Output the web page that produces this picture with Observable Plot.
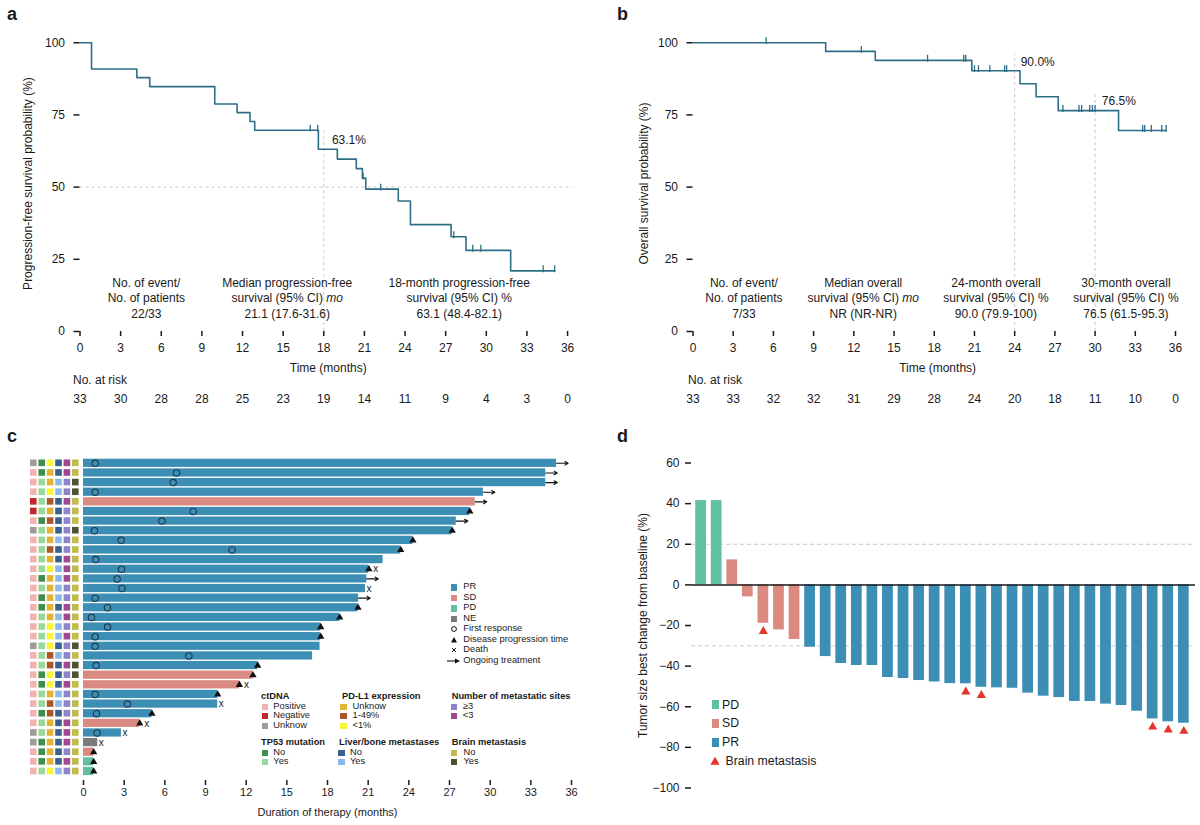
<!DOCTYPE html>
<html>
<head>
<meta charset="utf-8">
<script src="https://cdn.jsdelivr.net/npm/d3@7"></script>
<script src="https://cdn.jsdelivr.net/npm/@observablehq/plot@0.6"></script>
<style>
html,body{margin:0;padding:0;background:#fff;}
#root{position:relative;width:1200px;height:825px;overflow:hidden;background:#fff;font-family:"Liberation Sans",Arial,Helvetica,sans-serif;color:#1a1a1a;}
.pl{position:absolute;font-weight:bold;font-size:18px;line-height:1;}
.lg{position:absolute;white-space:nowrap;line-height:1;transform:translateY(-50%);}
.sw{position:absolute;}
.holder{position:absolute;}
.holder svg{display:block;overflow:visible;}
</style>
</head>
<body>
<div id="root"></div>
<script>
// ---------------- DATA ----------------
// Panel a/b : Kaplan-Meier
const kmMonths = [0, 3, 6, 9, 12, 15, 18, 21, 24, 27, 30, 33, 36];
const kmYTicks = [0, 25, 50, 75, 100];

const pfsTime = [0, 0.85, 4.2, 5.15, 9.95, 11.6, 12.55, 12.9, 17.6, 19.0, 20.4, 20.85, 21.1, 23.5, 24.4, 27.4, 28.5, 31.8, 35.05];
const pfsSurv = [100, 90.9, 87.9, 84.8, 78.8, 75.8, 72.7, 69.7, 63.1, 59.7, 56.4, 53.1, 49.3, 45.2, 37.0, 32.8, 28.1, 21.0, 21.0];
const pfsCensorTime = [17.0, 17.55, 20.9, 22.2, 27.6, 29.0, 29.6, 34.2, 35.05];
const pfsCensorSurv = [69.7, 69.7, 53.1, 49.3, 32.8, 28.1, 28.1, 21.0, 21.0];
const pfsRisk = [33, 30, 28, 28, 25, 23, 19, 14, 11, 9, 4, 3, 0];
const pfsSummaryX = [4.9, 15.3, 28.0];
const pfsSummaryY = 11.9;
const pfsSummaryText = [
  "No. of event/\nNo. of patients\n22/33",
  "Median progression-free\nsurvival (95% CI) mo\n21.1 (17.6-31.6)",
  "18-month progression-free\nsurvival (95% CI) %\n63.1 (48.4-82.1)"
];
const pfsNoteX = [18.6];
const pfsNoteY = [66.3];
const pfsNoteText = ["63.1%"];
const pfsHGuides = [{y: 50, x1: 0, x2: 36.4}];
const pfsVGuides = [{x: 18, y1: 0, y2: 70.7}];

const osTime = [0, 9.9, 13.6, 20.8, 24.4, 25.6, 27.25, 31.75, 35.3];
const osSurv = [100, 97.0, 93.9, 90.3, 85.8, 81.3, 76.5, 69.6, 69.6];
const osCensorTime = [5.46, 12.56, 17.5, 20.2, 20.35, 21.0, 21.3, 22.15, 23.25, 23.4, 27.6, 28.8, 29.0, 29.6, 29.8, 30.0, 33.55, 33.7, 34.2, 34.97, 35.3];
const osCensorSurv = [100, 97.0, 93.9, 93.9, 93.9, 90.3, 90.3, 90.3, 90.3, 90.3, 76.5, 76.5, 76.5, 76.5, 76.5, 76.5, 69.6, 69.6, 69.6, 69.6, 69.6];
const osRisk = [33, 33, 32, 32, 31, 29, 28, 24, 20, 18, 11, 10, 0];
const osSummaryX = [3.8, 12.7, 22.6, 32.3];
const osSummaryY = 11.9;
const osSummaryText = [
  "No. of event/\nNo. of patients\n7/33",
  "Median overall\nsurvival (95% CI) mo\nNR (NR-NR)",
  "24-month overall\nsurvival (95% CI) %\n90.0 (79.9-100)",
  "30-month overall\nsurvival (95% CI) %\n76.5 (61.5-95.3)"
];
const osNoteX = [24.45, 30.5];
const osNoteY = [93.1, 79.9];
const osNoteText = ["90.0%", "76.5%"];
const osVGuides = [{x: 24, y1: 0, y2: 96.1}, {x: 30, y1: 0, y2: 82.2}];

// Panel c : swimmer plot (33 patients, top to bottom)
const swimTicks = [0, 3, 6, 9, 12, 15, 18, 21, 24, 27, 30, 33, 36];
const swimDuration = [34.9, 34.1, 34.1, 29.5, 28.9, 28.5, 27.5, 27.2, 24.3, 23.4, 22.1, 21.05, 20.9, 20.8, 20.3, 20.25, 18.9, 17.5, 17.5, 17.45, 16.9, 12.85, 12.5, 11.5, 9.9, 9.9, 5.05, 4.15, 2.8, 1.05, 0.75, 0.75, 0.75];
const swimResponse = ["PR","PR","PR","PR","SD","PR","PR","PR","PR","PR","PR","PR","PR","PR","PR","PR","PR","PR","PR","PR","PR","PR","SD","SD","PR","PR","PR","SD","PR","NE","SD","PD","PD"];
const swimFirstResponse = [0.86, 6.86, 6.61, 0.86, null, 8.09, 5.78, 0.81, 2.78, 10.96, 0.91, 2.8, 2.48, 2.83, 0.86, 1.77, 0.59, 1.77, 0.86, 0.86, 7.77, 0.93, null, null, 0.86, 3.24, 0.96, null, 1.0, null, null, null, null];
const swimProgression = [0,0,0,0,0,1,0,1,1,1,0,1,0,0,0,1,1,1,1,0,0,1,1,1,1,0,1,1,0,0,1,1,1];
const swimDeath =       [0,0,0,0,0,0,0,0,0,0,0,1,0,1,0,0,0,0,0,0,0,0,0,1,0,1,0,1,1,1,0,0,0];
const swimOngoing =     [1,1,1,1,1,0,1,0,0,0,0,0,1,0,1,0,0,0,0,0,0,0,0,0,0,0,0,0,0,0,0,0,0];
const respCats = ["PR", "SD", "PD", "NE"];
const respColors = ["#3d8eb5", "#da8a80", "#62c0a0", "#7a7a7a"];
const symbolLegend = ["First response", "Disease progression time", "Death", "Ongoing treatment"];

// Panel c : clinical annotation columns
const ctDNA = ["Unknow","Positive","Positive","Positive","Negative","Negative","Positive","Unknow","Positive","Positive","Positive","Positive","Positive","Positive","Positive","Positive","Positive","Positive","Positive","Unknow","Positive","Positive","Positive","Positive","Positive","Positive","Positive","Positive","Unknow","Unknow","Positive","Positive","Positive"];
const tp53 = ["No","No","Yes","Yes","Yes","Yes","No","Yes","Yes","Yes","Yes","Yes","No","Yes","No","No","Yes","Yes","Yes","Yes","Yes","Yes","No","No","Yes","Yes","No","Yes","Yes","No","No","No","Yes"];
const pdl1 = ["<1%","Unknow","Unknow","<1%","1-49%","Unknow","1-49%","Unknow","Unknow","1-49%","Unknow","<1%","Unknow","Unknow","Unknow","Unknow","Unknow","<1%","<1%","<1%","1-49%","1-49%","<1%","<1%","Unknow","1-49%","1-49%","Unknow","Unknow","Unknow","Unknow","Unknow","<1%"];
const liverBone = ["No","No","Yes","Yes","No","No","No","No","Yes","No","No","Yes","Yes","Yes","Yes","No","Yes","Yes","Yes","No","Yes","No","No","No","Yes","Yes","No","No","No","No","No","No","Yes"];
const metSites = ["<3","<3","≥3","≥3","<3","≥3","≥3","≥3","≥3","≥3","<3","<3","<3","≥3","≥3","<3","<3","≥3","<3","≥3","≥3","<3","≥3","<3","≥3","≥3","≥3","<3","<3","<3","≥3","<3","≥3"];
const brainMet = ["No","No","Yes","Yes","No","No","No","Yes","No","No","No","No","No","No","No","No","No","No","No","Yes","No","Yes","Yes","No","No","No","No","No","No","No","No","No","No"];

const ctDNALevels = ["Positive", "Negative", "Unknow"];
const ctDNAColors = ["#f1b3b1", "#c1272d", "#a19b99"];
const tp53Levels = ["No", "Yes"];
const tp53Colors = ["#3f8f4c", "#98d898"];
const pdl1Levels = ["Unknow", "1-49%", "<1%"];
const pdl1Colors = ["#e4b237", "#a9582b", "#f7f535"];
const metLevels = ["≥3", "<3"];
const metColors = ["#8e84c9", "#a24891"];
const liverLevels = ["No", "Yes"];
const liverColors = ["#3a5f91", "#8ab8ec"];
const brainLevels = ["No", "Yes"];
const brainColors = ["#c0bb4c", "#4e5331"];

// Panel d : waterfall (32 evaluable patients)
const wfTicks = [-100, -80, -60, -40, -20, 0, 20, 40, 60];
const wfValue = [41.5, 41.5, 12.3, -5.9, -18.9, -22.2, -26.9, -30.7, -35.3, -38.7, -39.7, -39.7, -45.6, -46.1, -47.1, -47.8, -48.6, -48.7, -50.4, -50.7, -50.9, -53.3, -54.8, -55.5, -57.4, -57.4, -58.7, -59.4, -62.2, -66.0, -67.4, -68.1];
const wfResponse = ["PD","PD","SD","SD","SD","SD","SD","PR","PR","PR","PR","PR","PR","PR","PR","PR","PR","PR","PR","PR","PR","PR","PR","PR","PR","PR","PR","PR","PR","PR","PR","PR"];
const wfBrain = [5, 18, 19, 30, 31, 32];
const wfGuides = [20, -30];
const wfCats = ["PD", "SD", "PR"];
const wfColors = ["#62c0a0", "#da8a80", "#3d8eb5"];
const brainColor = "#e5352b";

// ---------------- STYLE / HELPERS ----------------
const FONT = '"Liberation Sans", Arial, Helvetica, sans-serif';
const INK = "#1a1a1a";
const CURVE = "#2d6e86";
const DASH = "#c9c9c9";
const root = document.getElementById("root");
const baseStyle = {fontFamily: FONT, fontSize: "12px", color: INK, background: "transparent", overflow: "visible"};

function put(node, left, top) {
  const h = document.createElement("div");
  h.className = "holder";
  h.style.left = left + "px";
  h.style.top = top + "px";
  h.appendChild(node);
  root.appendChild(h);
  return h;
}
function panelLabel(t, left, top) {
  const d = document.createElement("div");
  d.className = "pl"; d.textContent = t;
  d.style.left = left + "px"; d.style.top = top + "px";
  root.appendChild(d);
}
function lgText(x, y, t, size, bold) {
  const d = document.createElement("div");
  d.className = "lg"; d.textContent = t;
  d.style.left = x + "px"; d.style.top = y + "px";
  d.style.fontSize = size + "px";
  if (bold) d.style.fontWeight = "bold";
  root.appendChild(d);
}
function swatch(cx, cy, w, h, color) {
  const d = document.createElement("div");
  d.className = "sw";
  d.style.cssText = `position:absolute;left:${cx - w / 2}px;top:${cy - h / 2}px;width:${w}px;height:${h}px;background:${color};`;
  root.appendChild(d);
}
function svgIcon(cx, cy, inner) {
  const s = 16;
  const d = document.createElement("div");
  d.style.cssText = `position:absolute;left:${cx - s / 2}px;top:${cy - s / 2}px;width:${s}px;height:${s}px;`;
  d.innerHTML = `<svg width="${s}" height="${s}" viewBox="-8 -8 16 16" style="display:block;overflow:visible">${inner}</svg>`;
  root.appendChild(d);
}
function italicMo(svg) {
  svg.querySelectorAll("tspan").forEach(t => {
    if (t.childElementCount === 0 && / mo$/.test(t.textContent)) {
      t.textContent = t.textContent.replace(/mo$/, "");
      const it = document.createElementNS("http://www.w3.org/2000/svg", "tspan");
      it.setAttribute("font-style", "italic");
      it.textContent = "mo";
      t.appendChild(it);
    }
  });
}
const censorTick = {draw(ctx, size) { const r = Math.sqrt(size / Math.PI); ctx.moveTo(0, -r); ctx.lineTo(0, r * 0.25); }};

// ---------------- PANELS a & b ----------------
function kmPanel(cfg) {
  const steps = cfg.time.map((t, i) => ({t, s: cfg.surv[i]}));
  const cens = cfg.censTime.map((t, i) => ({t, s: cfg.censSurv[i]}));
  const summaries = cfg.summaryX.map((x, i) => ({x, y: cfg.summaryY, text: cfg.summaryText[i]}));
  const notes = cfg.noteX.map((x, i) => ({x, y: cfg.noteY[i], text: cfg.noteText[i]}));
  const svg = Plot.plot({
    width: 600, height: 420,
    marginLeft: cfg.marginLeft, marginRight: cfg.marginRight, marginTop: 35, marginBottom: 89,
    style: baseStyle,
    x: {domain: [0, cfg.xMax]},
    y: {domain: [0, 102.5]},
    marks: [
      Plot.ruleY(cfg.hGuides, {y: "y", x1: "x1", x2: "x2", stroke: DASH, strokeDasharray: "3,3"}),
      Plot.ruleX(cfg.vGuides, {x: "x", y1: "y1", y2: "y2", stroke: DASH, strokeDasharray: "3,3"}),
      Plot.line(steps, {x: "t", y: "s", curve: "step-after", stroke: CURVE, strokeWidth: 1.6}),
      Plot.dot(cens, {x: "t", y: "s", symbol: censorTick, r: 5.5, stroke: CURVE, strokeWidth: 1.3, fill: "none"}),
      Plot.text(summaries, {x: "x", y: "y", text: "text", lineHeight: 1.29, fontSize: 12}),
      Plot.text(notes, {x: "x", y: "y", text: "text", textAnchor: "start", fontSize: 12}),
      Plot.text(kmMonths, {x: d => d, text: (d, i) => String(cfg.risk[i]), frameAnchor: "bottom", dy: 71.7, fontSize: 12}),
      Plot.text(["No. at risk"], {x: 0, text: d => d, frameAnchor: "bottom", dy: 52.3, dx: cfg.riskDx, textAnchor: "start", fontSize: 12}),
      Plot.axisX({ticks: kmMonths, tickSize: 5, tickPadding: 7, line: true, strokeWidth: 1.5, fontSize: 12,
        label: "Time (months)", labelAnchor: "center", labelArrow: "none", labelOffset: 40}),
      Plot.axisY({ticks: kmYTicks, tickSize: 6, tickPadding: 9, line: true, strokeWidth: 1.5, fontSize: 12,
        label: cfg.yLabel, labelAnchor: "center", labelArrow: "none", labelOffset: cfg.labelOffset})
    ]
  });
  italicMo(svg);
  return svg;
}

put(kmPanel({
  time: pfsTime, surv: pfsSurv, censTime: pfsCensorTime, censSurv: pfsCensorSurv, risk: pfsRisk,
  summaryX: pfsSummaryX, summaryY: pfsSummaryY, summaryText: pfsSummaryText,
  noteX: pfsNoteX, noteY: pfsNoteY, noteText: pfsNoteText,
  hGuides: pfsHGuides, vGuides: pfsVGuides,
  marginLeft: 79.5, marginRight: 24, xMax: 36.66, riskDx: -7, labelOffset: 57,
  yLabel: "Progression-free survival probability (%)"
}), 0, 0);

put(kmPanel({
  time: osTime, surv: osSurv, censTime: osCensorTime, censSurv: osCensorSurv, risk: osRisk,
  summaryX: osSummaryX, summaryY: osSummaryY, summaryText: osSummaryText,
  noteX: osNoteX, noteY: osNoteY, noteText: osNoteText,
  hGuides: [], vGuides: osVGuides,
  marginLeft: 92.5, marginRight: 18.3, xMax: 36.5, riskDx: -5, labelOffset: 54,
  yLabel: "Overall survival probability (%)"
}), 600, 0);

// ---------------- PANEL c ----------------
const ids = swimDuration.map((d, i) => i + 1);
const swim = swimDuration.map((dur, i) => ({
  id: i + 1, dur, resp: swimResponse[i], fr: swimFirstResponse[i],
  prog: swimProgression[i] === 1, death: swimDeath[i] === 1, ongoing: swimOngoing[i] === 1
}));

const heatCols = [
  {name: "ctDNA", values: ctDNA, levels: ctDNALevels, colors: ctDNAColors},
  {name: "TP53 mutation", values: tp53, levels: tp53Levels, colors: tp53Colors},
  {name: "PD-L1 expression", values: pdl1, levels: pdl1Levels, colors: pdl1Colors},
  {name: "Liver/bone metastases", values: liverBone, levels: liverLevels, colors: liverColors},
  {name: "Number of metastatic sites", values: metSites, levels: metLevels, colors: metColors},
  {name: "Brain metastasis", values: brainMet, levels: brainLevels, colors: brainColors}
];
const heatCells = heatCols.flatMap(c => c.values.map((v, i) => ({col: c.name, id: i + 1, key: c.name + "|" + v})));

const heatSvg = Plot.plot({
  width: 85, height: 385, marginLeft: 29.1, marginRight: 5.5, marginTop: 18, marginBottom: 45,
  style: baseStyle,
  x: {domain: heatCols.map(c => c.name), padding: 0, round: false, axis: null},
  y: {domain: ids, padding: 0, round: false, insetBottom: 4.2, axis: null},
  color: {domain: heatCols.flatMap(c => c.levels.map(l => c.name + "|" + l)), range: heatCols.flatMap(c => c.colors)},
  marks: [
    Plot.cell(heatCells, {x: "col", y: "id", fill: "key", insetLeft: 0.9, insetRight: 0.9, insetTop: 1.5, insetBottom: 1.5})
  ]
});
put(heatSvg, 0, 440);

const swimSvg = Plot.plot({
  width: 600, height: 385, marginLeft: 83, marginRight: 29, marginTop: 18, marginBottom: 45,
  style: {...baseStyle, fontSize: "11px"},
  x: {domain: [0, 36]},
  y: {domain: ids, padding: 0, round: false, insetBottom: 4.2, axis: null},
  color: {domain: respCats, range: respColors},
  marks: [
    Plot.barX(swim, {y: "id", x1: 0, x2: "dur", fill: "resp", insetTop: 0.7, insetBottom: 0.7}),
    Plot.dot(swim.filter(d => d.fr != null), {x: "fr", y: "id", r: 3.2, stroke: "#1b3a4d", strokeWidth: 1.1, fill: "none"}),
    Plot.arrow(swim.filter(d => d.ongoing), {x1: "dur", x2: d => d.dur + 0.85, y1: "id", y2: "id", stroke: "#111", strokeWidth: 1.1, headLength: 5}),
    Plot.dot(swim.filter(d => d.prog), {x: "dur", y: "id", symbol: "triangle", r: 2.7, fill: "#111"}),
    Plot.text(swim.filter(d => d.death && d.prog), {x: "dur", y: "id", text: () => "x", dx: 7, fontSize: 10}),
    Plot.text(swim.filter(d => d.death && !d.prog), {x: "dur", y: "id", text: () => "x", dx: 3.5, fontSize: 10}),
    Plot.axisX({ticks: swimTicks, tickSize: 5, tickPadding: 3, line: true, strokeWidth: 1.5, fontSize: 11,
      label: "Duration of therapy (months)", labelAnchor: "center", labelArrow: "none", labelOffset: 35})
  ]
});
put(swimSvg, 0, 440);

// legend: response + symbols
const LG = 9.3;
respCats.forEach((c, i) => {
  const y = 587.3 + i * 10.5;
  swatch(454, y, 6.5, 6.5, respColors[i]);
  lgText(463.3, y, c, LG);
});
const symIcons = [
  `<circle r="2.4" fill="none" stroke="#111" stroke-width="1"/>`,
  `<path d="M0,-3 L3,2.4 L-3,2.4 Z" fill="#111"/>`,
  `<path d="M-2,-2 L2,2 M2,-2 L-2,2" stroke="#111" stroke-width="1"/>`,
  `<path d="M-7,0 L3,0" stroke="#111" stroke-width="1.1"/><path d="M6,0 L1,-2.5 L1,2.5 Z" fill="#111"/>`
];
symbolLegend.forEach((t, i) => {
  const y = 587.3 + (i + 4) * 10.5;
  svgIcon(454, y, symIcons[i]);
  lgText(463.3, y, t, LG);
});
// legend: annotation groups
const groupPos = [
  {col: 0, tx: 261, sx: 265, lx: 273.3, ty: 696.7},
  {col: 1, tx: 261, sx: 265, lx: 273.3, ty: 742.7},
  {col: 2, tx: 342, sx: 343.5, lx: 352.5, ty: 696.7},
  {col: 3, tx: 339, sx: 341.5, lx: 350, ty: 742.7},
  {col: 4, tx: 451.7, sx: 453.7, lx: 462.8, ty: 696.7},
  {col: 5, tx: 451.7, sx: 453.7, lx: 463.5, ty: 742.7}
];
groupPos.forEach(g => {
  const c = heatCols[g.col];
  lgText(g.tx, g.ty, c.name, LG, true);
  c.levels.forEach((l, i) => {
    const y = g.ty + 10 + i * 9.7;
    swatch(g.sx, y, 6.2, 6.2, c.colors[i]);
    lgText(g.lx, y, l, LG);
  });
});

// ---------------- PANEL d ----------------
const wf = wfValue.map((v, i) => ({id: i + 1, v, resp: wfResponse[i], brain: wfBrain.includes(i + 1)}));
const wfSvg = Plot.plot({
  width: 600, height: 385, marginLeft: 91, marginRight: 5, marginTop: 15, marginBottom: 30,
  style: baseStyle,
  x: {domain: wf.map(d => d.id), paddingInner: 0.31, paddingOuter: 0.155, round: false, insetLeft: 1.8, insetRight: 3.9, axis: null},
  y: {domain: [-103.7, 63.7]},
  color: {domain: wfCats, range: wfColors},
  marks: [
    Plot.ruleY(wfGuides, {stroke: DASH, strokeDasharray: "4,3"}),
    Plot.barY(wf, {x: "id", y1: 0, y2: "v", fill: "resp"}),
    Plot.ruleY([0], {stroke: INK, strokeWidth: 1.5}),
    Plot.dot(wf.filter(d => d.brain), {x: "id", y: "v", symbol: "triangle", r: 3.4, fill: brainColor, dy: 8}),
    Plot.axisY({ticks: wfTicks, tickSize: 6, tickPadding: 6, line: true, strokeWidth: 1.5, fontSize: 12,
      label: "Tumor size best change from baseline (%)", labelAnchor: "center", labelArrow: "none", labelOffset: 53})
  ]
});
put(wfSvg, 600, 440);

wfCats.forEach((c, i) => {
  const y = 704.5 + i * 18.9;
  swatch(715, y, 7, 8.5, wfColors[i]);
  lgText(722, y, c, 12.3);
});
svgIcon(715, 761.2, `<path d="M0,-4.3 L4.6,3.7 L-4.6,3.7 Z" fill="${brainColor}"/>`);
lgText(725.5, 761.2, "Brain metastasis", 12.3);

// panel letters
panelLabel("a", 7, 5);
panelLabel("b", 617, 5);
panelLabel("c", 7, 427);
panelLabel("d", 617, 427);
</script>
</body>
</html>
